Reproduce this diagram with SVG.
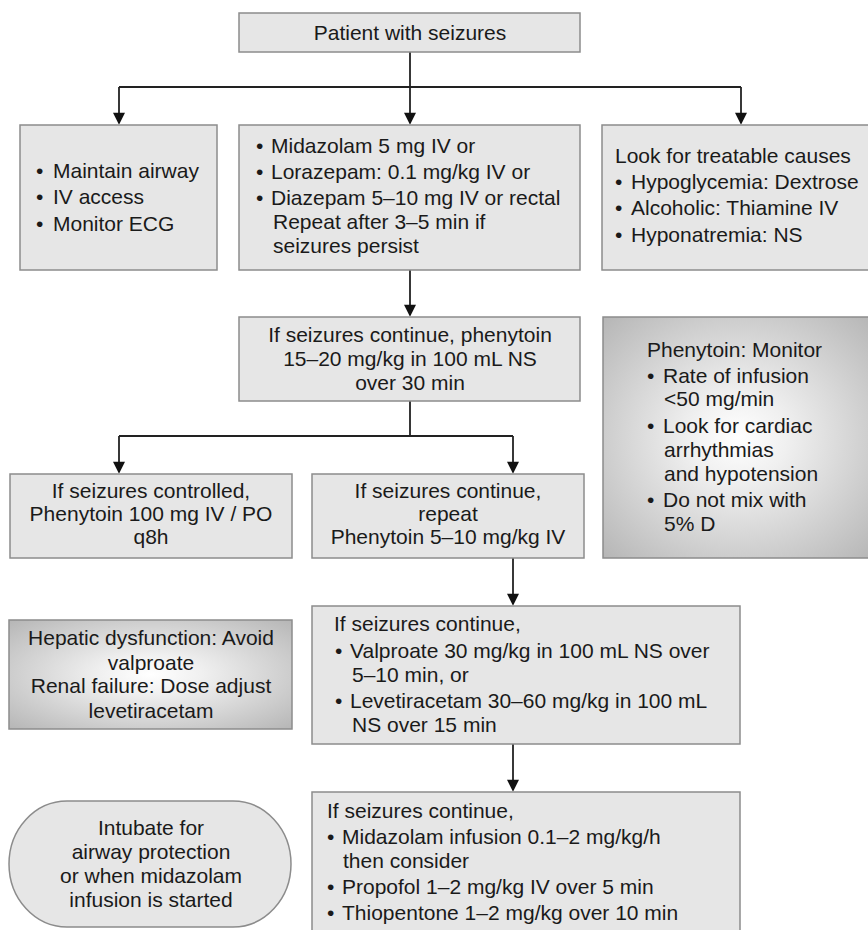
<svg xmlns="http://www.w3.org/2000/svg" width="868" height="930" viewBox="0 0 868 930">
<style>
text{font-family:"Liberation Sans",Arial,sans-serif;font-size:21px;fill:#1a1a1a}
.c{text-anchor:middle}
.box{fill:#e6e6e6;stroke:#8c8c8c;stroke-width:1.5}
.gbox{fill:url(#rg);stroke:#8c8c8c;stroke-width:1.5}
.ln{fill:none;stroke:#222;stroke-width:1.8}
</style>
<defs>
<radialGradient id="rg" cx="50%" cy="50%" r="72%">
<stop offset="0" stop-color="#ffffff"/>
<stop offset="0.25" stop-color="#f0f0f0"/>
<stop offset="1" stop-color="#b4b4b4"/>
</radialGradient>
<marker id="ah" markerWidth="14" markerHeight="12" refX="12" refY="7" orient="auto" markerUnits="userSpaceOnUse" viewBox="0 0 14 14">
<path d="M0,0 L14,7 L0,14 Z" fill="#111"/>
</marker>
</defs>
<g id="connectors">
<path class="ln" d="M410,52 V87"/>
<path class="ln" d="M119,87 H741"/>
<path class="ln" d="M119,87 V123" marker-end="url(#ah)"/>
<path class="ln" d="M410,87 V123" marker-end="url(#ah)"/>
<path class="ln" d="M741,87 V123" marker-end="url(#ah)"/>
<path class="ln" d="M410,270 V315" marker-end="url(#ah)"/>
<path class="ln" d="M410,401 V436 M119,436 H513"/>
<path class="ln" d="M119,436 V472" marker-end="url(#ah)"/>
<path class="ln" d="M513,436 V472" marker-end="url(#ah)"/>
<path class="ln" d="M513,558 V604" marker-end="url(#ah)"/>
<path class="ln" d="M513,744 V790" marker-end="url(#ah)"/>
</g>
<g id="start">
<rect class="box" x="239" y="13" width="341" height="39"/>
<text class="c" x="410" y="40">Patient with seizures</text>
</g>
<g id="supportive">
<rect class="box" x="20" y="125" width="197" height="145"/>
<text x="36" y="178">• <tspan x="53">Maintain airway</tspan></text>
<text x="36" y="204">• <tspan x="53">IV access</tspan></text>
<text x="36" y="231">• <tspan x="53">Monitor ECG</tspan></text>
</g>
<g id="benzodiazepines">
<rect class="box" x="239" y="125" width="341" height="145"/>
<text x="256" y="153">• <tspan x="271">Midazolam 5 mg IV or</tspan></text>
<text x="256" y="179">• <tspan x="271">Lorazepam: 0.1 mg/kg IV or</tspan></text>
<text x="256" y="205">• <tspan x="271">Diazepam 5–10 mg IV or rectal</tspan></text>
<text x="273" y="229">Repeat after 3–5 min if</text>
<text x="273" y="253">seizures persist</text>
</g>
<g id="causes">
<rect class="box" x="602" y="125" width="270" height="145"/>
<text x="615" y="163">Look for treatable causes</text>
<text x="615" y="189">• <tspan x="631">Hypoglycemia: Dextrose</tspan></text>
<text x="615" y="215">• <tspan x="631">Alcoholic: Thiamine IV</tspan></text>
<text x="615" y="242">• <tspan x="631">Hyponatremia: NS</tspan></text>
</g>
<g id="phenytoin">
<rect class="box" x="239" y="317" width="341" height="84"/>
<text class="c" x="410" y="342">If seizures continue, phenytoin</text>
<text class="c" x="410" y="366">15–20 mg/kg in 100 mL NS</text>
<text class="c" x="410" y="390">over 30 min</text>
</g>
<g id="monitor">
<rect class="gbox" x="603" y="317" width="270" height="241"/>
<text x="647" y="357">Phenytoin: Monitor</text>
<text x="647" y="383">• <tspan x="663">Rate of infusion</tspan></text>
<text x="664" y="406">&lt;50 mg/min</text>
<text x="647" y="433">• <tspan x="663">Look for cardiac</tspan></text>
<text x="664" y="457">arrhythmias</text>
<text x="664" y="481">and hypotension</text>
<text x="647" y="507">• <tspan x="663">Do not mix with</tspan></text>
<text x="664" y="531">5% D</text>
</g>
<g id="controlled">
<rect class="box" x="10" y="474" width="282" height="84"/>
<text class="c" x="151" y="498">If seizures controlled,</text>
<text class="c" x="151" y="521">Phenytoin 100 mg IV / PO</text>
<text class="c" x="151" y="544">q8h</text>
</g>
<g id="repeat">
<rect class="box" x="312" y="474" width="272" height="84"/>
<text class="c" x="448" y="498">If seizures continue,</text>
<text class="c" x="448" y="521">repeat</text>
<text class="c" x="448" y="544">Phenytoin 5–10 mg/kg IV</text>
</g>
<g id="hepatic">
<rect class="gbox" x="9" y="620" width="283" height="109"/>
<text class="c" x="151" y="645">Hepatic dysfunction: Avoid</text>
<text class="c" x="151" y="670">valproate</text>
<text class="c" x="151" y="693">Renal failure: Dose adjust</text>
<text class="c" x="151" y="718">levetiracetam</text>
</g>
<g id="valproate">
<rect class="box" x="312" y="606" width="428" height="138"/>
<text x="334" y="631">If seizures continue,</text>
<text x="335" y="658">• <tspan x="350">Valproate 30 mg/kg in 100 mL NS over</tspan></text>
<text x="352" y="682">5–10 min, or</text>
<text x="335" y="708">• <tspan x="350">Levetiracetam 30–60 mg/kg in 100 mL</tspan></text>
<text x="352" y="732">NS over 15 min</text>
</g>
<g id="intubate">
<rect class="box" x="9" y="801" width="282" height="126" rx="58" ry="63"/>
<text class="c" x="151" y="835">Intubate for</text>
<text class="c" x="151" y="859">airway protection</text>
<text class="c" x="151" y="883">or when midazolam</text>
<text class="c" x="151" y="907">infusion is started</text>
</g>
<g id="infusion">
<rect class="box" x="312" y="792" width="428" height="150"/>
<text x="327" y="818">If seizures continue,</text>
<text x="327" y="844">• <tspan x="342">Midazolam infusion 0.1–2 mg/kg/h</tspan></text>
<text x="343" y="868">then consider</text>
<text x="327" y="894">• <tspan x="342">Propofol 1–2 mg/kg IV over 5 min</tspan></text>
<text x="327" y="920">• <tspan x="342">Thiopentone 1–2 mg/kg over 10 min</tspan></text>
</g>
</svg>
